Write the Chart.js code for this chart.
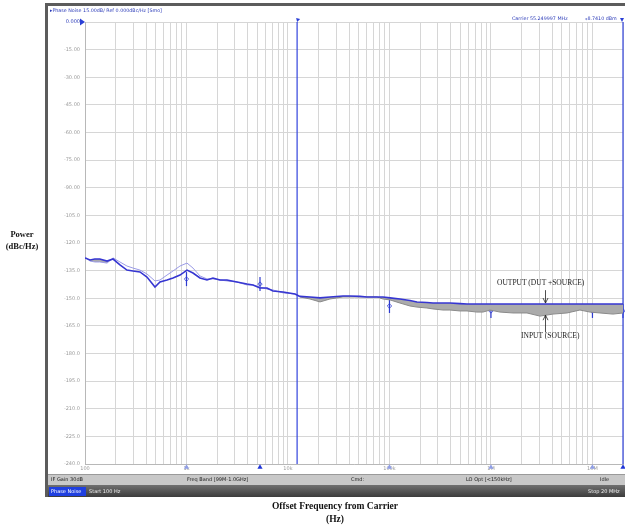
<!DOCTYPE html>
<html><head><meta charset="utf-8">
<script src="https://cdn.jsdelivr.net/npm/chart.js@4.4.1/dist/chart.umd.min.js"></script>
<style>
html,body{margin:0;padding:0;background:#fff;}
#wrap{position:relative;width:625px;height:527px;overflow:hidden;font-family:"DejaVu Sans",sans-serif;}
#c{position:absolute;left:0;top:0;}
.abs{position:absolute;white-space:nowrap;line-height:1;}
.serif{font-family:"Liberation Serif","DejaVu Serif",serif;}
</style></head>
<body><div id="wrap">
<div class="abs" style="left:45px;top:3px;width:580px;height:3px;background:#5c5c5c"></div>
<div class="abs" style="left:45px;top:3px;width:3px;height:494px;background:#5c5c5c"></div>
<div class="abs" style="left:48px;top:474px;width:577px;height:10px;background:#c8c8c8;border-top:1px solid #9a9a9a"></div>
<div class="abs" style="left:48px;top:485px;width:577px;height:12px;background:linear-gradient(#707070,#3c3c3c)"></div>
<canvas id="c" width="625" height="527"></canvas>
<div class="abs" style="left:50px;top:9px;font-size:4.8px;color:#2a3ab8">&#9656;Phase Noise 15.00dB/ Ref 0.000dBc/Hz [Smo]</div>
<div class="abs" style="left:512px;top:17px;font-size:4.8px;color:#2a3ab8">Carrier 55.249997 MHz</div>
<div class="abs" style="left:585px;top:17px;font-size:4.8px;color:#2a3ab8">&#8270;8.7410 dBm</div>
<div class="abs" style="left:51px;top:477px;font-size:5px;color:#222">IF Gain 30dB</div>
<div class="abs" style="left:187px;top:477px;font-size:5px;color:#222">Freq Band [99M-1.0GHz]</div>
<div class="abs" style="left:351px;top:477px;font-size:5px;color:#222">Cmd:</div>
<div class="abs" style="left:466px;top:477px;font-size:5px;color:#222">LO Opt [&lt;150kHz]</div>
<div class="abs" style="left:600px;top:477px;font-size:5px;color:#222">Idle</div>
<div class="abs" style="left:49px;top:487px;width:37px;height:9px;background:#1f3fe0"></div>
<div class="abs" style="left:51px;top:489px;font-size:5px;color:#fff">Phase Noise</div>
<div class="abs" style="left:89px;top:489px;font-size:5px;color:#eee">Start 100 Hz</div>
<div class="abs" style="left:588px;top:489px;font-size:5px;color:#eee">Stop 20 MHz</div>
<div class="abs serif" style="left:0px;top:228px;width:44px;text-align:center;font-size:8.5px;font-weight:bold;color:#111;line-height:12px">Power<br>(dBc/Hz)</div>
<div class="abs serif" style="left:235px;top:500px;width:200px;text-align:center;font-size:9.5px;font-weight:bold;color:#111;line-height:12.5px">Offset Frequency from Carrier<br>(Hz)</div>
<div class="abs serif" style="left:497px;top:279px;font-size:7.5px;color:#222">OUTPUT (DUT +SOURCE)</div>
<div class="abs serif" style="left:521px;top:332px;font-size:7.5px;color:#222">INPUT (SOURCE)</div>
</div>
<script>
// ---- data ----
const freqs = [100,112,125,140,165,189,221,259,297,348,408,489,548,643,736,863,1012,1159,1358,1592,1824,2138,2506,3145,3945,4521,5300,6210,7115,8930,11720,13130,16480,20670,25920,34840,40820,51200,59980,75300,86300,101200,126900,159200,186600,233900,268300,336600,394500,495300,580600,728000,834300,977800,1227000,1648000,2264000,3040000,4080000,5610000,7530000,9450000,11850000,15900000,20000000];
const outputDUT = [-128.1,-129.2,-128.7,-128.7,-129.8,-128.7,-131.9,-134.7,-135.2,-135.7,-138.5,-143.9,-141.2,-140.1,-139.0,-137.4,-134.7,-136.3,-139.0,-140.1,-139.0,-140.1,-140.1,-141.2,-142.3,-142.8,-144.4,-144.4,-146.1,-146.6,-147.7,-149.0,-149.3,-149.8,-149.3,-148.8,-148.8,-149.0,-149.3,-149.3,-149.3,-149.8,-150.4,-151.2,-152.0,-152.3,-152.6,-152.6,-152.6,-152.9,-153.1,-153.1,-153.1,-153.1,-153.1,-153.1,-153.1,-153.1,-153.1,-153.1,-153.1,-153.1,-153.1,-153.1,-153.1];
const inputSource = [-127.6,-129.8,-130.3,-130.3,-130.9,-128.1,-130.3,-132.5,-133.6,-134.7,-136.8,-140.6,-140.1,-137.4,-135.2,-132.5,-130.9,-133.6,-137.9,-139.5,-139.5,-140.1,-140.6,-141.2,-142.8,-142.8,-143.9,-145.0,-145.5,-147.1,-147.7,-149.3,-150.4,-152.0,-150.4,-149.3,-149.3,-149.3,-149.3,-149.3,-150.4,-150.9,-152.6,-154.2,-154.8,-155.3,-155.8,-156.4,-156.4,-156.9,-156.9,-157.5,-157.5,-156.4,-157.5,-158.0,-158.0,-159.7,-158.6,-158.0,-156.4,-157.5,-158.0,-158.6,-158.0];
const yTickValues = [0,-15,-30,-45,-60,-75,-90,-105,-120,-135,-150,-165,-180,-195,-210,-225,-240];
const yTickLabels = ["0.000","-15.00","-30.00","-45.00","-60.00","-75.00","-90.00","-105.0","-120.0","-135.0","-150.0","-165.0","-180.0","-195.0","-210.0","-225.0","-240.0"];
const xTickValues = [100,1000,10000,100000,1000000,10000000];
const xTickLabels = ["100","1k","10k","100k","1M","10M"];
const markerLineFreq = 12300;
const curveMarkerFreqs = [1000,5300,100000,1000000,10000000,20000000];
const curveMarkerVals = [-139.6,-142.3,-154.2,-156.9,-156.9,-156.9];
const bottomMarkerFreqs = [1000,5300,100000,1000000,10000000,20000000];
const bottomMarkerColors = ["#8f9ee6","#1f35d8","#8f9ee6","#8f9ee6","#8f9ee6","#1f35d8"];
const arrows = [{f:3400000,from:-145.6,to:-152.6},{f:3400000,from:-168.6,to:-159.2}];

// ---- build ----
const xGrid = [];
for (let d=100; d<=1e7; d*=10) for (let k=1;k<=9;k++){ const v=d*k; if (v<=2e7) xGrid.push(v); }
xGrid.push(2e7);
const pts = (xs, ys) => xs.map((x,i)=>({x, y: ys[i]}));

const annot = {
  id:'annot',
  afterDatasetsDraw(chart){
    const {ctx, scales:{x,y}, chartArea} = chart;
    ctx.save();
    ctx.strokeStyle='#222'; ctx.lineWidth=0.8;
    arrows.forEach(a=>{
      const px = Math.round(x.getPixelForValue(a.f))+0.5;
      const y0 = y.getPixelForValue(a.from), y1 = y.getPixelForValue(a.to);
      const dir = Math.sign(y1-y0);
      ctx.beginPath(); ctx.moveTo(px,y0); ctx.lineTo(px,y1);
      ctx.moveTo(px-2.5,y1-dir*5); ctx.lineTo(px,y1); ctx.lineTo(px+2.5,y1-dir*5);
      ctx.stroke();
    });
    const yz = y.getPixelForValue(0);
    ctx.fillStyle='#2a3fd6';
    ctx.beginPath(); ctx.moveTo(chartArea.left-5,yz-3.5); ctx.lineTo(chartArea.left,yz); ctx.lineTo(chartArea.left-5,yz+3.5); ctx.closePath(); ctx.fill();
    const mx = x.getPixelForValue(markerLineFreq);
    ctx.beginPath(); ctx.moveTo(mx-1,chartArea.top-4); ctx.lineTo(mx+3,chartArea.top-3); ctx.lineTo(mx,chartArea.top); ctx.closePath(); ctx.fill();
    const rx = x.getPixelForValue(2e7);
    ctx.beginPath(); ctx.moveTo(rx-3,chartArea.top-4); ctx.lineTo(rx+1,chartArea.top-4); ctx.lineTo(rx-1,chartArea.top); ctx.closePath(); ctx.fill();
    ctx.restore();
  }
};

new Chart(document.getElementById('c'), {
  type:'line',
  data:{ datasets:[
    {label:'OUTPUT (DUT + SOURCE)', data:pts(freqs,outputDUT), borderColor:'#3636d2', borderWidth:1.6, pointRadius:0, fill:false},
    {label:'INPUT (SOURCE)', data:pts(freqs,inputSource), borderColor:'#9a9ae6', borderWidth:1,
      segment:{borderColor: c => c.p0.parsed.x >= 13000 ? '#8a8a8a' : '#9a9ae6'},
      pointRadius:0, fill:{target:0, above:'rgba(0,0,0,0)', below:'#ababab'}},
    {label:'marker', data:[{x:markerLineFreq,y:0},{x:markerLineFreq,y:-240}], borderColor:'#3344dd', borderWidth:1.2, pointRadius:0, fill:false},
    {label:'edge', data:[{x:2e7,y:0},{x:2e7,y:-240}], borderColor:'#3344dd', borderWidth:1.2, pointRadius:0, fill:false, clip:false},
    {label:'mk1', data:pts(curveMarkerFreqs,curveMarkerVals), showLine:false, pointStyle:'line', rotation:90, pointRadius:7, borderColor:'#2d3ad0', borderWidth:1.2, clip:false},
    {label:'mk2', data:pts(curveMarkerFreqs,curveMarkerVals), showLine:false, pointStyle:'rectRot', pointRadius:2.2, borderColor:'#2d3ad0', backgroundColor:'rgba(255,255,255,0.6)', borderWidth:0.8, clip:false},
    {label:'bm', data:bottomMarkerFreqs.map(f=>({x:f,y:-241.7})), showLine:false, pointStyle:'triangle', pointRadius:3, borderWidth:0, backgroundColor:bottomMarkerColors, borderColor:bottomMarkerColors, clip:false}
  ]},
  options:{
    responsive:false, animation:false, events:[],
    layout:{autoPadding:false, padding:{left:47,right:2,top:22,bottom:53}},
    plugins:{legend:{display:false}, tooltip:{enabled:false}},
    scales:{
      x:{type:'logarithmic', min:100, max:2e7,
        afterBuildTicks: s => { s.ticks = xGrid.map(v=>({value:v})); },
        afterFit: s => { s.height = 10; },
        grid:{color:'#d6d6d6', lineWidth:1, drawTicks:false},
        border:{color:'#b8b8b8'},
        ticks:{autoSkip:false, maxRotation:0, padding:2, color:'#9a9a9a', font:{size:5, family:'DejaVu Sans'},
          callback: v => { const i = xTickValues.indexOf(v); return i>=0 ? xTickLabels[i] : ''; }}
      },
      y:{type:'linear', min:-240, max:0,
        afterBuildTicks: s => { s.ticks = yTickValues.map(v=>({value:v})); },
        afterFit: s => { s.width = 38; },
        grid:{color:'#d6d6d6', lineWidth:1, drawTicks:false},
        border:{color:'#b8b8b8'},
        ticks:{padding:5, color: c => c.tick && c.tick.value===0 ? '#2a3ab8' : '#9a9a9a', font:{size:5, family:'DejaVu Sans'},
          callback: v => { const i = yTickValues.indexOf(v); return i>=0 ? yTickLabels[i] : ''; }}
      }
    }
  },
  plugins:[annot]
});
</script>
</body></html>
